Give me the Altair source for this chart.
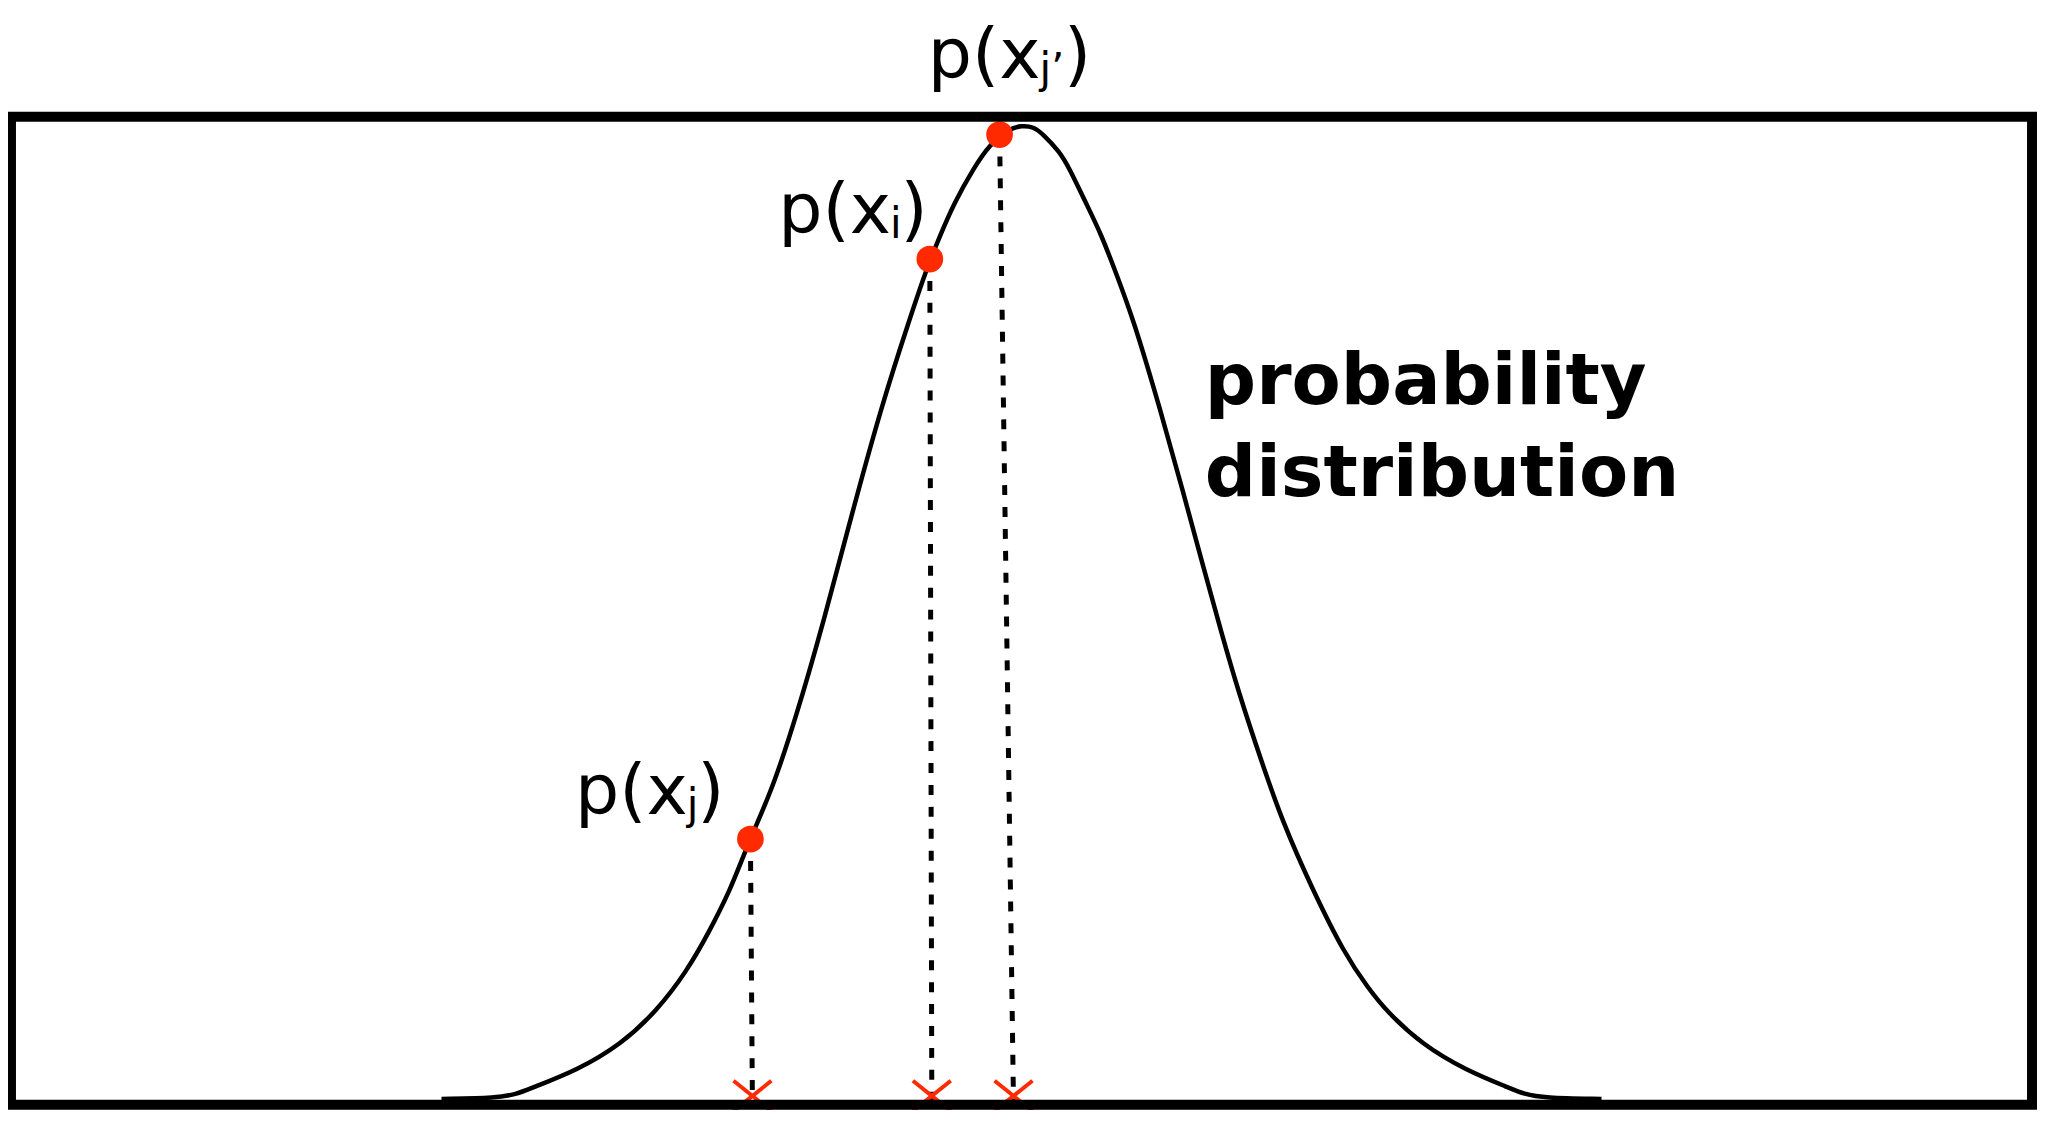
import altair as alt
import pandas as pd

# ---- data (x in arbitrary units, y = density, peak ~1) ----
curve_x = [-2.91, -2.63, -2.53, -2.46, -2.23, -2.01, -1.83, -1.68, -1.57, -1.46,
           -1.39, -1.32, -1.24, -1.13, -0.99, -0.85, -0.70, -0.56, -0.48, -0.41,
           -0.34, -0.24, -0.16, -0.06, 0.00, 0.06, 0.11, 0.19, 0.24, 0.32,
           0.40, 0.47, 0.56, 0.70, 0.81, 0.91, 1.00, 1.09, 1.20, 1.31,
           1.46, 1.62, 1.74, 1.83, 2.01, 2.23, 2.45, 2.52, 2.62, 2.91]
curve_y = [0.006, 0.007, 0.011, 0.017, 0.035, 0.061, 0.095, 0.135, 0.174, 0.218,
           0.255, 0.288, 0.326, 0.393, 0.491, 0.599, 0.709, 0.796, 0.844, 0.879,
           0.912, 0.948, 0.972, 0.988, 0.991, 0.990, 0.982, 0.965, 0.948, 0.914,
           0.881, 0.844, 0.796, 0.701, 0.621, 0.546, 0.480, 0.417, 0.350, 0.286,
           0.218, 0.153, 0.118, 0.095, 0.061, 0.035, 0.017, 0.011, 0.007, 0.006]

sample_names = ["x_j", "x_i", "x_j'"]
sample_x = [-1.36, -0.46, -0.11]        # where the red dot sits on the curve
sample_p = [0.269, 0.856, 0.982]        # p(x) value at the dot
sample_foot_x = [-1.35, -0.45, -0.04]   # where the dashed drop meets the x axis
sample_foot_y = [0.0, 0.0, 0.0]
cross_y = [0.009, 0.009, 0.009]         # centre of the red cross on the axis

label_main = ["p(x", "p(x", "p(x"]
label_sub = ["j", "i", "j\u2019"]
label_close = [")", ")", ")"]
label_x = [-2.24, -1.22, -0.47]
label_sub_x = [-1.68, -0.66, 0.09]
label_close_x = [-1.49, -0.47, 0.35]
label_y = [0.294, 0.882, 1.039]

title_lines = ["probability", "distribution"]
title_x = [0.92, 0.92]
title_y = [0.709, 0.616]

X_DOMAIN = [-5.07, 5.07]
Y_DOMAIN = [0.0, 1.0]
RED = "#ff2a00"
FONT = "DejaVu Sans"

curve_df = pd.DataFrame({"x": curve_x, "y": curve_y})
samples_df = pd.DataFrame({
    "name": sample_names, "x": sample_x, "p": sample_p,
    "fx": sample_foot_x, "fy": sample_foot_y, "cy": cross_y,
})
labels_df = pd.DataFrame({
    "main": label_main, "sub": label_sub, "close": label_close,
    "x": label_x, "xs": label_sub_x, "xc": label_close_x, "y": label_y,
})
title_df = pd.DataFrame({"t": title_lines, "x": title_x, "y": title_y})
frame_df = pd.DataFrame({
    "x0": [X_DOMAIN[0]], "x1": [X_DOMAIN[1]],
    "y0": [Y_DOMAIN[0]], "y1": [Y_DOMAIN[1]],
})

xs = alt.Scale(domain=X_DOMAIN, nice=False, zero=False)
ys = alt.Scale(domain=Y_DOMAIN, nice=False, zero=False)

curve = alt.Chart(curve_df).mark_line(
    color="black", strokeWidth=4.5, interpolate="basis"
).encode(
    x=alt.X("x:Q", scale=xs, axis=None),
    y=alt.Y("y:Q", scale=ys, axis=None),
)

drops = alt.Chart(samples_df).mark_rule(
    color="black", strokeWidth=5, strokeDash=[10, 12]
).encode(
    x=alt.X("x:Q", scale=xs, axis=None),
    y=alt.Y("p:Q", scale=ys, axis=None),
    x2="fx:Q",
    y2="fy:Q",
)

dots = alt.Chart(samples_df).mark_circle(color=RED, size=720, opacity=1).encode(
    x=alt.X("x:Q", scale=xs, axis=None),
    y=alt.Y("p:Q", scale=ys, axis=None),
)

crosses = alt.Chart(samples_df).mark_point(
    shape="M-1,-0.8L1,0.8M-1,0.8L1,-0.8", size=1444, strokeWidth=4,
    color=RED, filled=False, opacity=1,
).encode(
    x=alt.X("fx:Q", scale=xs, axis=None),
    y=alt.Y("cy:Q", scale=ys, axis=None),
)

frame = alt.Chart(frame_df).mark_rect(
    filled=False, stroke="black", strokeWidth=10
).encode(
    x=alt.X("x0:Q", scale=xs, axis=None), x2="x1:Q",
    y=alt.Y("y0:Q", scale=ys, axis=None), y2="y1:Q",
)

lab_main = alt.Chart(labels_df).mark_text(
    align="left", baseline="alphabetic", font=FONT, fontSize=70, color="black"
).encode(
    x=alt.X("x:Q", scale=xs, axis=None),
    y=alt.Y("y:Q", scale=ys, axis=None),
    text="main:N",
)
lab_sub = alt.Chart(labels_df).mark_text(
    align="left", baseline="alphabetic", font=FONT, fontSize=42, dy=5, color="black"
).encode(
    x=alt.X("xs:Q", scale=xs, axis=None),
    y=alt.Y("y:Q", scale=ys, axis=None),
    text="sub:N",
)
lab_close = alt.Chart(labels_df).mark_text(
    align="right", baseline="alphabetic", font=FONT, fontSize=70, color="black"
).encode(
    x=alt.X("xc:Q", scale=xs, axis=None),
    y=alt.Y("y:Q", scale=ys, axis=None),
    text="close:N",
)

title = alt.Chart(title_df).mark_text(
    align="left", baseline="alphabetic", font=FONT, fontSize=72,
    fontWeight="bold", color="black"
).encode(
    x=alt.X("x:Q", scale=xs, axis=None),
    y=alt.Y("y:Q", scale=ys, axis=None),
    text="t:N",
)

chart = alt.layer(
    curve, drops, dots, crosses, frame, lab_main, lab_sub, lab_close, title
).properties(
    width=2029, height=992,
    padding={"left": 3, "top": 107, "right": 5, "bottom": 3},
    autosize=alt.AutoSizeParams(type="none"),
    background="white",
).configure_view(stroke="transparent")

chart.save("out.html", embed_options={"renderer": "svg", "actions": False})
